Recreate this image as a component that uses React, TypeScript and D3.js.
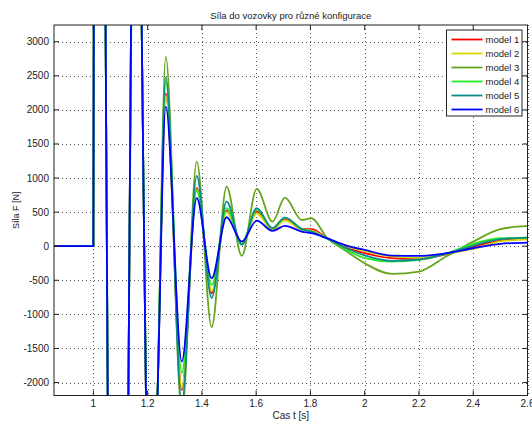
import React from "react";
import * as d3 from "d3";

// time samples (s)
const T: number[] = [
  0.855, 1.0, 1.0015, 1.02, 1.045, 1.053, 1.09, 1.129, 1.139, 1.157, 1.178, 1.194, 1.215, 1.236,
  1.267, 1.326, 1.381, 1.436, 1.491, 1.547, 1.602, 1.66, 1.706, 1.768, 1.804, 1.86, 1.933, 2.0,
  2.1, 2.2, 2.3, 2.4, 2.5, 2.6,
];

// force values (N) per model
const MODEL1: number[] = [
  0, 0, 3300, 20000, 3300, -2250, -20000, -2250, 3300, 9000, 3300, -2250, -5000, -2250,
  2240, -2110, 850, -690, 520, 40, 508, 240, 390, 250, 250, 118, -20, -103,
  -176, -191, -118, -5, 83, 107,
];
const MODEL2: number[] = [
  0, 0, 3300, 20000, 3300, -2250, -20000, -2250, 3300, 9000, 3300, -2250, -5000, -2250,
  2200, -2080, 830, -660, 500, 50, 480, 245, 380, 245, 230, 120, 0, -70,
  -150, -170, -110, -40, 70, 100,
];
const MODEL3: number[] = [
  0, 0, 3300, 21000, 3300, -1900, -21000, -2250, 2900, 9500, 3300, -2000, -5400, -2250,
  2780, -2450, 1240, -1185, 875, -142, 840, 360, 712, 385, 410, 130, -75, -250,
  -406, -372, -152, 67, 250, 298,
];
const MODEL4: number[] = [
  0, 0, 3300, 20500, 3300, -2100, -20500, -2250, 3100, 9200, 3300, -2100, -5200, -2250,
  2420, -1860, 820, -570, 560, 30, 537, 264, 420, 255, 215, 115, -50, -176,
  -226, -200, -110, 34, 117, 127,
];
const MODEL5: number[] = [
  0, 0, 3300, 20000, 3300, -2250, -20000, -2250, 3300, 9000, 3300, -2250, -5000, -2250,
  2480, -2300, 1030, -760, 655, 20, 557, 264, 420, 250, 215, 118, -30, -135,
  -215, -195, -110, 10, 103, 127,
];
const MODEL6: number[] = [
  0, 0, 3300, 19500, 3300, -2250, -19500, -2250, 3300, 8800, 3300, -2250, -4800, -2250,
  2047, -1692, 704, -470, 425, 67, 375, 225, 298, 215, 191, 118, 10, -54,
  -138, -142, -103, -30, 34, 53,
];

const SERIES_NAMES: string[] = ["model 1", "model 2", "model 3", "model 4", "model 5", "model 6"];
const SERIES_VALUES: number[][] = [MODEL1, MODEL2, MODEL3, MODEL4, MODEL5, MODEL6];
const COLORS: string[] = ["#ff0000", "#d8d800", "#66a61e", "#22ee22", "#0e8c8c", "#0000ff"];

const X_TICKS: number[] = [1, 1.2, 1.4, 1.6, 1.8, 2, 2.2, 2.4, 2.6];
const Y_TICKS: number[] = [-2000, -1500, -1000, -500, 0, 500, 1000, 1500, 2000, 2500, 3000];

const TITLE = "Síla do vozovky pro různé konfigurace";
const X_LABEL = "Cas t [s]";
const Y_LABEL = "Síla F [N]";

export default function App() {
  const W = 532, H = 421;
  const L = 54, R = 527.5, TOP = 25, BOT = 395.5;
  const x = d3.scaleLinear().domain([0.855, 2.6]).range([L, R]);
  const y = d3.scaleLinear().domain([-2190, 3245]).range([BOT, TOP]);
  const line = d3
    .line<[number, number]>()
    .x((d) => x(d[0]))
    .y((d) => y(d[1]))
    .curve(d3.curveMonotoneX);
  const font = "'Liberation Sans', Arial, Helvetica, sans-serif";
  const tick = 5;
  const legX = 446.5, legY = 30, legW = 75.5, legH = 86;

  return (
    <svg
      width={W}
      height={H}
      style={{ position: "absolute", left: 0, top: 0, background: "#fff" }}
      fontFamily={font}
    >
      <defs>
        <clipPath id="plot">
          <rect x={L} y={TOP} width={R - L} height={BOT - TOP} />
        </clipPath>
      </defs>
      <rect x={L} y={TOP} width={R - L} height={BOT - TOP} fill="#fff" />
      {/* grid */}
      {X_TICKS.map((t) => (
        <line key={"gx" + t} x1={Math.round(x(t)) + 0.5} x2={Math.round(x(t)) + 0.5} y1={TOP} y2={BOT}
          stroke="#555" strokeDasharray="1 3" strokeWidth={1} />
      ))}
      {Y_TICKS.map((t) => (
        <line key={"gy" + t} y1={Math.round(y(t)) + 0.5} y2={Math.round(y(t)) + 0.5} x1={L} x2={R}
          stroke="#555" strokeDasharray="1 3" strokeWidth={1} />
      ))}
      {/* series */}
      <g clipPath="url(#plot)">
        {SERIES_VALUES.map((vals, i) => (
          <path key={i} d={line(T.map((t, j) => [t, vals[j]] as [number, number])) || ""}
            fill="none" stroke={COLORS[i]} strokeWidth={1.8} strokeLinejoin="round" />
        ))}
      </g>
      {/* ticks */}
      {X_TICKS.map((t) => (
        <g key={"tx" + t}>
          <line x1={x(t)} x2={x(t)} y1={BOT} y2={BOT - tick} stroke="#222" />
          <line x1={x(t)} x2={x(t)} y1={TOP} y2={TOP + tick} stroke="#222" />
          <text x={x(t)} y={406.5} fontSize={10} textAnchor="middle" fill="#222">{String(t)}</text>
        </g>
      ))}
      {Y_TICKS.map((t) => (
        <g key={"ty" + t}>
          <line x1={L} x2={L + tick} y1={y(t)} y2={y(t)} stroke="#222" />
          <line x1={R} x2={R - tick} y1={y(t)} y2={y(t)} stroke="#222" />
          <text x={L - 5} y={y(t) + 3.5} fontSize={10} textAnchor="end" fill="#222">{String(t)}</text>
        </g>
      ))}
      {/* frame */}
      <rect x={L} y={TOP} width={R - L} height={BOT - TOP} fill="none" stroke="#222" strokeWidth={1} />
      {/* labels */}
      <text x={(L + R) / 2} y={18.5} fontSize={9.5} textAnchor="middle" fill="#222">{TITLE}</text>
      <text x={(L + R) / 2} y={419} fontSize={10} textAnchor="middle" fill="#222">{X_LABEL}</text>
      <text transform={`translate(19,${(TOP + BOT) / 2}) rotate(-90)`} fontSize={9} textAnchor="middle" fill="#222">{Y_LABEL}</text>
      {/* legend */}
      <rect x={legX} y={legY} width={legW} height={legH} fill="#fff" stroke="#222" />
      {SERIES_NAMES.map((n, i) => (
        <g key={n}>
          <line x1={451.5} x2={482.5} y1={legY + 9.5 + i * 14} y2={legY + 9.5 + i * 14}
            stroke={COLORS[i]} strokeWidth={1.8} />
          <text x={485.5} y={legY + 9.5 + i * 14 + 3.5} fontSize={9.5} fill="#222">{n}</text>
        </g>
      ))}
    </svg>
  );
}
